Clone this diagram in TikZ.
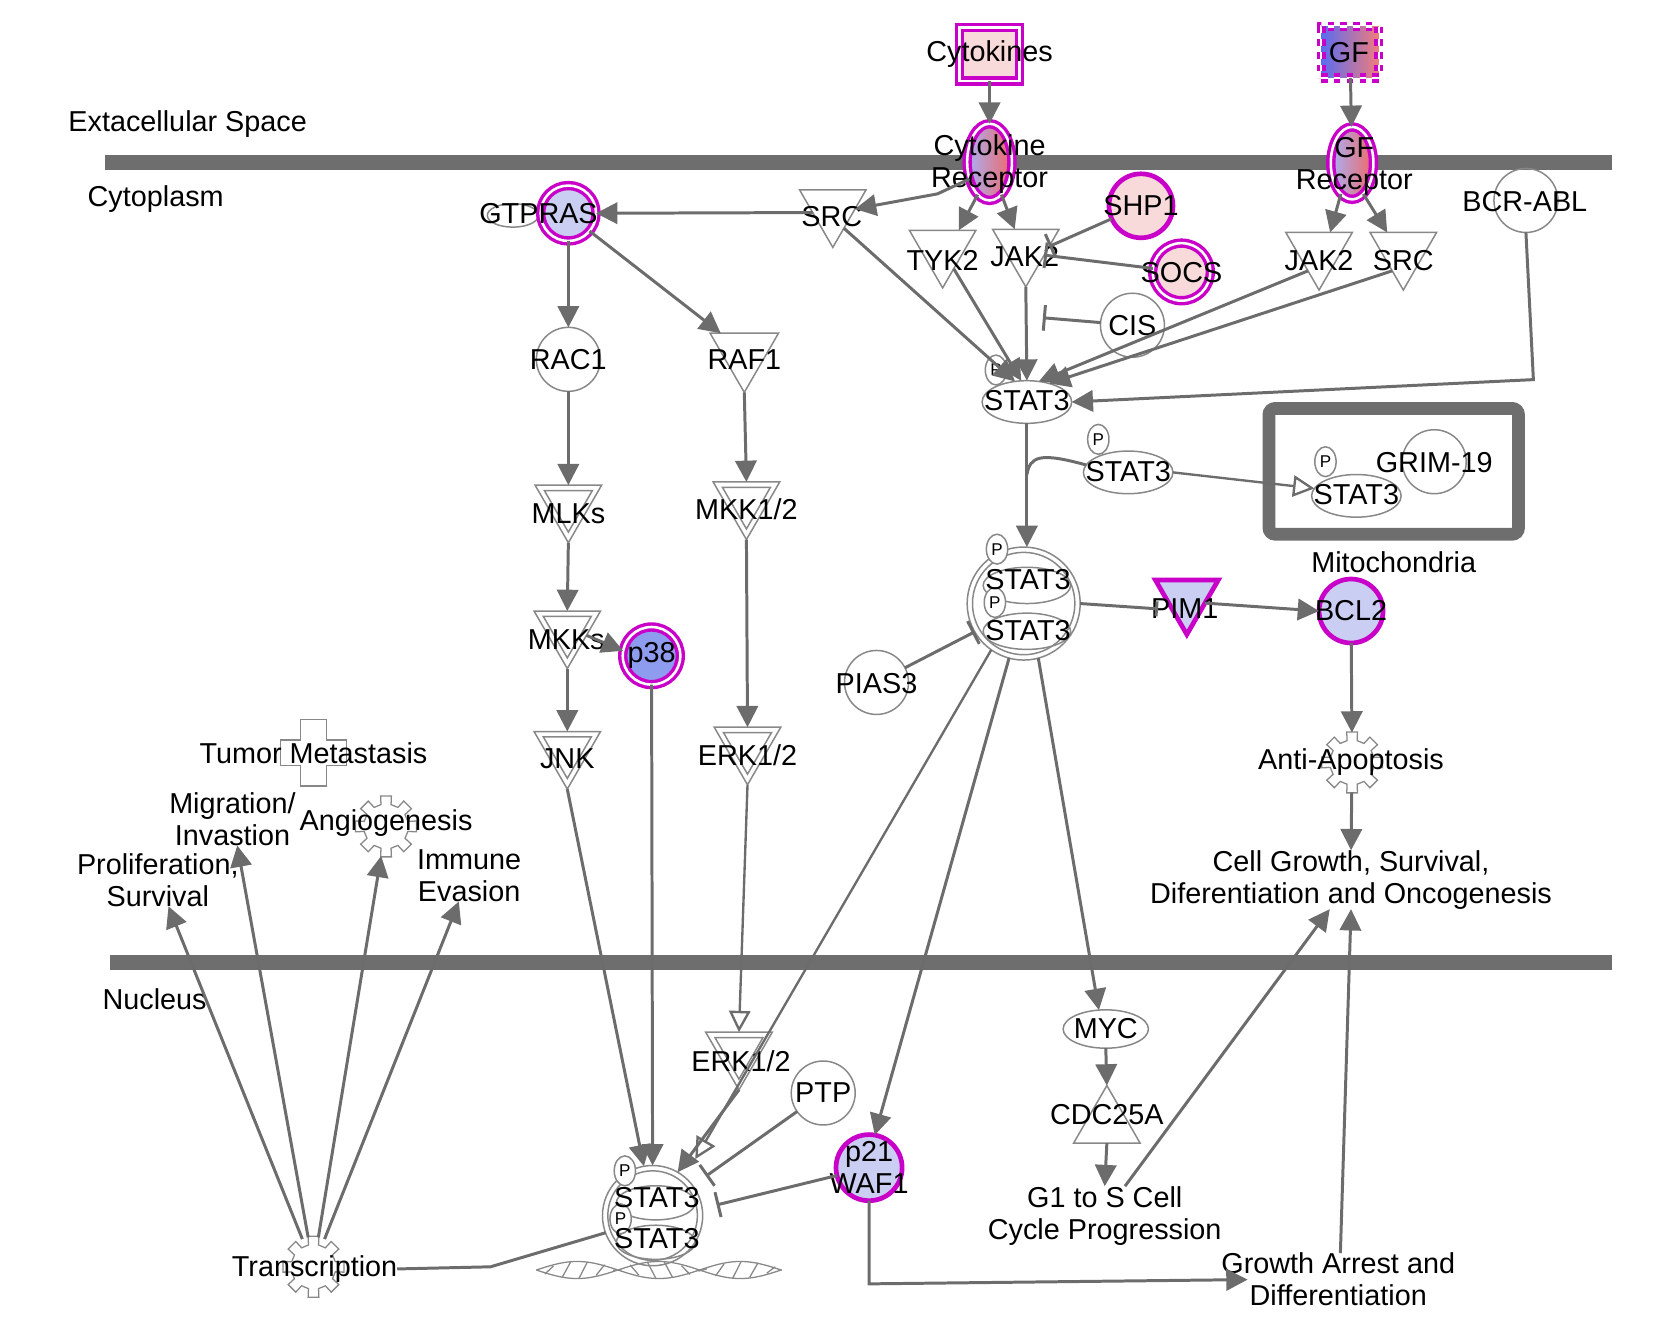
\documentclass[tikz,border=0pt]{standalone}
\usepackage{fontspec}
\setmainfont{Liberation Sans}
\usetikzlibrary{arrows.meta,shapes.geometric,calc}
\definecolor{eg}{HTML}{6C6C6C}
\definecolor{ng}{HTML}{888888}
\definecolor{mem}{HTML}{6E6E6E}
\definecolor{mag}{HTML}{C800C8}
\definecolor{pinkf}{HTML}{F8DADA}
\definecolor{lblue}{HTML}{C9CEF2}
\definecolor{mblue}{HTML}{8E9CF0}
\definecolor{recb}{HTML}{A8B0F4}
\definecolor{recm}{HTML}{E2C6DC}
\definecolor{recr}{HTML}{F06868}
\definecolor{gfb}{HTML}{5A6CF0}
\definecolor{gfr}{HTML}{F07C7C}
\newcommand\myfs{\fontsize{13.5}{15}\selectfont}
\newcommand\myfsp{\fontsize{8}{9}\selectfont}
\tikzset{
 every node/.append style={inner sep=0pt,outer sep=0pt},
 txt/.style={font=\myfs,align=center,text=black},
 ptxt/.style={font=\myfsp,text=black},
 gc/.style={circle,draw=ng,line width=0.7pt,minimum size=30pt},
 gel/.style={ellipse,draw=ng,line width=0.7pt,minimum width=42pt,minimum height=20pt},
 pel/.style={ellipse,draw=ng,line width=0.7pt,fill=white,minimum width=10pt,minimum height=14pt},
 ktri/.style={regular polygon,regular polygon sides=3,shape border rotate=180,draw=ng,line width=0.7pt,minimum size=36pt},
 ktrii/.style={regular polygon,regular polygon sides=3,shape border rotate=180,draw=ng,line width=0.7pt,minimum size=26pt},
 utri/.style={regular polygon,regular polygon sides=3,draw=ng,line width=0.7pt,minimum size=36pt},
 hmag/.style={draw=mag,line width=1.6pt,double=white,double distance=1.2pt},
 smag/.style={draw=mag,line width=2.2pt},
 fnode/.style={circle,minimum size=28pt},
 gearst/.style={draw=ng,line width=0.6pt,fill=white},
 arr/.style={draw=eg,line width=1.4pt,-{Triangle[length=10pt,width=10pt]}},
 inh/.style={draw=eg,line width=1.4pt,-{Bar[width=12pt]}},
 tra/.style={draw=eg,line width=1.1pt,-{Triangle[open,length=10pt,width=10pt,fill=white]}},
 pln/.style={draw=eg,line width=1.4pt},
 memb/.style={draw=mem,line width=7pt},
}
\newcommand\gearat[1]{\begin{scope}[shift={(#1)}]\draw[gearst] (-13:21) \foreach \ga in {0,45,...,315}{ -- (\ga-13:21) -- (\ga-10:29) -- (\ga+10:29) -- (\ga+13:21)} -- cycle;\end{scope}}
\newcommand\crossat[1]{\begin{scope}[shift={(#1)}]\draw[gearst] (-12,-31) -- (12,-31) -- (12,-12) -- (31,-12) -- (31,12) -- (12,12) -- (12,31) -- (-12,31) -- (-12,12) -- (-31,12) -- (-31,-12) -- (-12,-12) -- cycle;\end{scope}}
\begin{document}
\begin{tikzpicture}[x=0.5pt,y=-0.5pt]
\useasboundingbox (0,0) rectangle (1568,1252);
% membranes
\draw[memb] (98,152) -- (1512,152);
\draw[memb] (103,903) -- (1512,903);
% compartment labels
\node[txt] (lext) at (176,116) {Extacellular Space};
\node[txt] (lcyt) at (146,187) {Cytoplasm};
\node[txt] (lnuc) at (145,937) {Nucleus};
\node[txt] (lmit) at (1307,527) {Mitochondria};
\node[draw=mem,line width=6pt,rounded corners=3pt,minimum width=117pt,minimum height=59pt] (mito) at (1307,442) {};
% extracellular
\node[rectangle,hmag,fill=pinkf,minimum width=28pt,minimum height=25pt] (cyto) at (928,51) {};
\node[txt] (cytoT) at (928,51) {Cytokines};
\node[rectangle,hmag,dashed,left color=gfb,right color=gfr,minimum width=27pt,minimum height=24pt] (gf) at (1266,49) {};
\node[txt] (gfT) at (1265,49) {GF};
% receptors
\node[ellipse,hmag,left color=recb,middle color=recm,right color=recr,minimum width=21pt,minimum height=36pt] (ckr) at (928,152) {};
\node[txt] (ckrT) at (928,154) {Cytokine\\Receptor};
\node[ellipse,hmag,left color=recb,middle color=recm,right color=recr,minimum width=20pt,minimum height=34pt] (gfr) at (1268,153) {};
\node[txt] (gfrT) at (1270,156) {GF\\Receptor};
% cytoplasm
\node[ellipse,draw=ng,line width=0.7pt,minimum width=24pt,minimum height=11pt] (gtp) at (481,202) {};
\node[circle,hmag,fill=lblue,minimum size=26pt] (gtpras) at (533,200) {};
\node[txt] (gtprasT) at (505,200) {GTPRAS};
\node[ktri] (srcL) at (781,196) {};
\node[txt] (srcLT) at (780,203) {SRC};
\node[ktri] (tyk2) at (884,234) {};
\node[txt] (tyk2T) at (884,244) {TYK2};
\node[ktri] (jak2L) at (962,233) {};
\node[txt] (jak2LT) at (961,241) {JAK2};
\node[ktri] (jak2R) at (1237,236) {};
\node[txt] (jak2RT) at (1237,244) {JAK2};
\node[ktri] (srcR) at (1316,236) {};
\node[txt] (srcRT) at (1316,244) {SRC};
\node[circle,smag,fill=pinkf,minimum size=30pt] (shp1) at (1070,193) {};
\node[txt] (shp1T) at (1070,193) {SHP1};
\node[circle,hmag,fill=pinkf,minimum size=27pt] (socs) at (1108,255) {};
\node[txt] (socsT) at (1108,256) {SOCS};
\node[gc] (bcr) at (1431,188) {};
\node[txt] (bcrT) at (1430,189) {BCR-ABL};
\node[gc] (cis) at (1062,305) {};
\node[txt] (cisT) at (1062,305) {CIS};
\node[gc] (rac1) at (533,337) {};
\node[txt] (rac1T) at (533,337) {RAC1};
\node[ktri,minimum size=37pt] (raf1) at (698,331) {};
\node[txt] (raf1T) at (698,337) {RAF1};
% STAT3 top
\node[gel] (st3a) at (963,377) {};
\node[txt] (st3aT) at (963,376) {STAT3};
\node[pel] (pa) at (934,347) {};
\node[ptxt] (paT) at (934,347) {P};
% STAT3 mid
\node[gel] (st3b) at (1058,443) {};
\node[txt] (st3bT) at (1058,442) {STAT3};
\node[pel] (pb) at (1030,412) {};
\node[ptxt] (pbT) at (1030,412) {P};
% mitochondria content
\node[gc] (grim) at (1345,433) {};
\node[gel] (st3c) at (1272,465) {};
\node[txt] (st3cT) at (1272,464) {STAT3};
\node[pel] (pcm) at (1243,433) {};
\node[ptxt] (pcmT) at (1243,433) {P};
\node[txt] (grimT) at (1345,434) {GRIM-19};
% MAPK
\node[ktri] (mlks) at (533,473) {};
\node[ktrii] (mlksI) at (533,473) {};
\node[txt] (mlksT) at (533,482) {MLKs};
\node[ktri] (mkk12) at (700,470) {};
\node[ktrii] (mkk12I) at (700,470) {};
\node[txt] (mkk12T) at (700,478) {MKK1/2};
\node[ktri] (mkks) at (532,591) {};
\node[ktrii] (mkksI) at (532,591) {};
\node[txt] (mkksT) at (531,600) {MKKs};
\node[circle,hmag,fill=mblue,minimum size=27pt] (p38) at (611,615) {};
\node[txt] (p38T) at (611,615) {p38};
\node[ktri] (jnk) at (532,704) {};
\node[ktrii] (jnkI) at (532,704) {};
\node[txt] (jnkT) at (532,712) {JNK};
\node[ktri] (erk12c) at (701,700) {};
\node[ktrii] (erk12cI) at (701,700) {};
\node[txt] (erk12cT) at (701,708) {ERK1/2};
% STAT3 dimer cytoplasm
\node[gc,minimum size=53pt] (dimc) at (960,566) {};
\node[gc,minimum size=48pt] (dimcI) at (960,566) {};
\node[gel,minimum width=41pt,minimum height=17pt] (dimcA) at (963,549) {};
\node[gel,minimum width=41pt,minimum height=17pt] (dimcB) at (963,592) {};
\node[pel] (pc1) at (935,515) {};
\node[ptxt] (pc1T) at (935,515) {P};
\node[pel] (pc2) at (933,565) {};
\node[ptxt] (pc2T) at (933,565) {P};
\node[txt] (dimcAT) at (964,544) {STAT3};
\node[txt] (dimcBT) at (964,591) {STAT3};
% PIM1, BCL2, PIAS3
\node[regular polygon,regular polygon sides=3,shape border rotate=180,draw=mag,line width=2.2pt,fill=lblue,minimum size=34pt] (pim1) at (1113,561) {};
\node[txt] (pim1T) at (1111,571) {PIM1};
\node[circle,smag,fill=lblue,minimum size=30pt] (bcl2) at (1267,573) {};
\node[txt] (bcl2T) at (1267,573) {BCL2};
\node[gc] (pias3) at (822,640) {};
\node[txt] (pias3T) at (822,641) {PIAS3};
% functions
\node[fnode] (antiap) at (1268,715) {};
\gearat{antiap.center}
\node[txt] (antiapT) at (1267,715) {Anti-Apoptosis};
\node[txt] (cellg) at (1267,825) {Cell Growth, Survival,\\Diferentiation and Oncogenesis};
\node[fnode] (tumor) at (294,706) {};
\crossat{tumor.center}
\node[txt] (tumorT) at (294,706) {Tumor Metastasis};
\node[txt] (migr) at (218,768) {Migration/\\Invastion};
\node[fnode] (angio) at (362,775) {};
\gearat{angio.center}
\node[txt] (angioT) at (362,772) {Angiogenesis};
\node[txt] (prolif) at (148,825) {Proliferation,\\Survival};
\node[txt] (immune) at (440,821) {Immune\\Evasion};
% nucleus
\node[ktri] (erk12n) at (693,986) {};
\node[ktrii] (erk12nI) at (693,986) {};
\node[txt] (erk12nT) at (695,995) {ERK1/2};
\node[gc] (ptp) at (772,1025) {};
\node[txt] (ptpT) at (772,1025) {PTP};
\node[gel,minimum width=40pt,minimum height=18pt] (myc) at (1037,965) {};
\node[txt] (mycT) at (1037,965) {MYC};
\node[utri] (cdc) at (1038,1054) {};
\node[txt] (cdcT) at (1038,1045) {CDC25A};
\node[txt] (g1s) at (1036,1140) {G1 to S Cell\\Cycle Progression};
\node[circle,smag,fill=lblue,minimum size=31pt] (p21) at (815,1095) {};
\node[txt] (p21T) at (815,1095) {p21\\WAF1};
% DNA
\begin{scope}[shift={(503,1191)}]
\draw[gearst,fill=none] plot[domain=0:230,samples=50,smooth] (\x,{8*sin(\x/153*360)});
\draw[gearst,fill=none] plot[domain=0:230,samples=50,smooth] (\x,{-8*sin(\x/153*360)});
\foreach \xx in {12,28,...,220}{\pgfmathsetmacro\yy{8*sin(\xx/153*360)}\draw[gearst] (\xx-4,\yy) -- (\xx+4,-\yy);}
\end{scope}
% STAT3 dimer nucleus
\node[gc,minimum size=47pt] (dimn) at (612,1140) {};
\node[gc,minimum size=42pt] (dimnI) at (612,1140) {};
\node[gel,minimum width=37pt,minimum height=16pt] (dimnA) at (615,1128) {};
\node[gel,minimum width=37pt,minimum height=16pt] (dimnB) at (615,1165) {};
\node[pel] (pn1) at (586,1098) {};
\node[ptxt] (pn1T) at (586,1098) {P};
\node[pel] (pn2) at (582,1143) {};
\node[ptxt] (pn2T) at (582,1143) {P};
\node[txt] (dimnAT) at (616,1123) {STAT3};
\node[txt] (dimnBT) at (616,1162) {STAT3};
\node[fnode] (trans) at (294,1188) {};
\gearat{trans.center}
\node[txt] (transT) at (295,1190) {Transcription};
\node[txt] (garr) at (1255,1200) {Growth Arrest and\\Differentiation};
% helper coordinates
\coordinate (bcrK) at (1438,356);
\coordinate (cisK) at (978,298);
\coordinate (brA) at (963,445);
\coordinate (trEnd) at (652,1087);
\coordinate (ptpK) at (662,1103);
\coordinate (p21K) at (672,1130);
\coordinate (tjoin) at (460,1188);
\coordinate (p21J) at (815,1204);
\coordinate (garrK) at (1170,1200);
\coordinate (pimK) at (1086,571);
% edges
\draw[arr] (cyto) -- (ckr);
\draw[arr] (gf) -- (gfr);
\draw[arr] (ckr.220) -- ++(-30,14) -- (srcL.east);
\draw[arr] (ckr.250) -- (tyk2.50);
\draw[arr] (ckr.290) -- (jak2L.120);
\draw[arr] (gfr.250) -- (jak2R.60);
\draw[arr] (gfr.290) -- (srcR.130);
\draw[arr] (srcL.190) -- (gtpras.east);
\draw[arr] (gtpras) -- (rac1);
\draw[arr] (gtpras.-40) -- (raf1.140);
\draw[arr] (rac1) -- (mlks.north);
\draw[arr] (raf1.south) -- (mkk12.north);
\draw[arr] (mlks.south) -- (mkks.north);
\draw[arr] (mkks.-15) -- (p38.170);
\draw[arr] (mkks.south) -- (jnk.north);
\draw[arr] (mkk12.south) -- (erk12c.north);
\draw[arr] (srcL.-60) -- (st3a.120);
\draw[arr] (tyk2.-60) -- (st3a.105);
\draw[arr] (jak2L.south) -- (st3a.north);
\draw[arr] (jak2R.-120) -- (st3a.60);
\draw[arr] (srcR.-120) -- (st3a.40);
\draw[arr] (bcr.south) -- (bcrK) -- (st3a.east);
\draw[inh] (cis) -- (cisK);
\draw[inh] (shp1) -- (jak2L.5);
\draw[inh] (socs) -- (jak2L.-20);
\draw[inh] (pias3) -- (dimc.210);
\draw[arr] (st3a.south) -- (st3a.south |- dimc.north);
\draw[pln] (brA) .. controls (966,428) and (975,424) .. (st3b.170);
\draw[tra] (st3b.east) -- (st3c.170);
\draw[pln,-{Bar[width=7pt]}] (dimc.east) -- (pimK);
\draw[arr] (pim1.-15) -- (bcl2.west);
\draw[arr] (bcl2) -- (antiap);
\draw[arr] (antiap) -- (cellg.north);
\draw[tra] (dimc.235) -- (trEnd);
\draw[arr] (dimc.255) -- (p21.80);
\draw[arr] (dimc.-75) -- (myc.110);
\draw[tra] (erk12c.south) -- (erk12n.north);
\draw[arr] (erk12n.south) -- (dimn.60);
\draw[inh] (ptp) -- (ptpK);
\draw[inh] (p21) -- (p21K);
\draw[arr] (jnk.south) -- (dimn.100);
\draw[arr] (p38) -- (dimn.north);
\draw[pln] (dimn.200) -- (tjoin) -- (transT.east);
\draw[arr] (trans) -- (prolif);
\draw[arr] (trans) -- (migr);
\draw[arr] (trans) -- (angio);
\draw[arr] (trans) -- (immune);
\draw[arr] (myc.south) -- (cdc.north);
\draw[arr] (cdc.south) -- (g1s.north);
\draw[arr] ($(g1s.north)+(19,0)$) -- ($(cellg.south)+(-20,0)$);
\draw[arr] ($(garr.north)+(2,0)$) -- (cellg.south);
\draw[arr] (p21.south) -- (p21J) -- (garrK);
\end{tikzpicture}
\end{document}
